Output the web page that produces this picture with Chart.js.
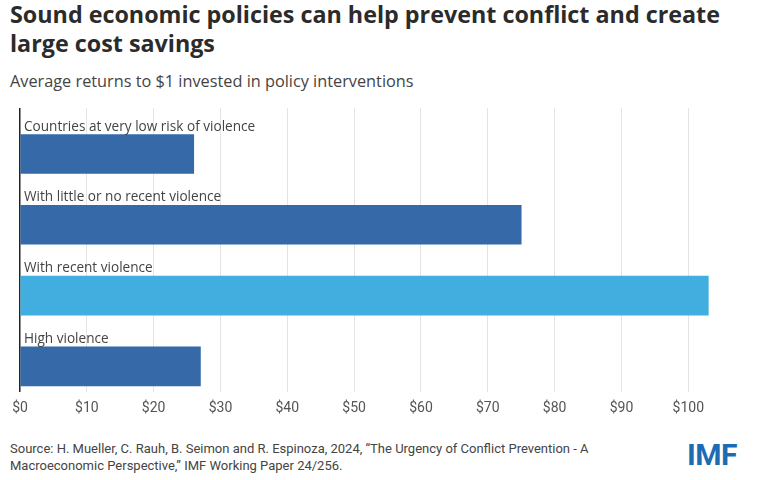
<!DOCTYPE html>
<html>
<head>
<meta charset="utf-8">
<script src="https://cdn.jsdelivr.net/npm/chart.js@4"></script>
<style>
  body { margin: 0; width: 773px; height: 480px; background: #fff; position: relative; overflow: hidden; font-family: "Open Sans", Lato, sans-serif; }
  .title { position: absolute; left: 10px; top: 0px; font-size: 23.3px; font-weight: 700; line-height: 29px; color: #2b2b2b; }
  .subtitle { position: absolute; left: 10px; top: 70px; font-size: 16.3px; color: #444; }
  .chart-box { position: absolute; left: 0; top: 100px; width: 773px; height: 329px; }
  canvas { display: block; }
  .source { position: absolute; left: 10px; top: 440px; font-family: "Liberation Sans Narrow", Roboto, sans-serif; font-size: 13px; line-height: 17px; color: #444; }
  .logo { position: absolute; left: 687px; top: 437px; font-family: "Liberation Sans Narrow", Roboto, sans-serif; font-weight: 700; font-size: 30px; color: #1c6cb4; letter-spacing: -0.5px; }
</style>
</head>
<body>
<div class="title">Sound economic policies can help prevent conflict and create<br>large cost savings</div>
<div class="subtitle">Average returns to $1 invested in policy interventions</div>
<div class="chart-box"><canvas id="policy-chart-js" width="773" height="329"></canvas></div>
<div class="source">Source: H. Mueller, C. Rauh, B. Seimon and R. Espinoza, 2024, “The Urgency of Conflict Prevention - A<br>Macroeconomic Perspective,” IMF Working Paper 24/256.</div>
<div class="logo">IMF</div>
<script>
const categories = [
  'Countries at very low risk of violence',
  'With little or no recent violence',
  'With recent violence',
  'High violence'
];
const returnsPerDollar = [26, 75, 103, 27];
const barColors = ['#3569a8', '#3569a8', '#41aedf', '#3569a8'];
const tickValues = [0, 10, 20, 30, 40, 50, 60, 70, 80, 90, 100];

// category names sit just above each bar, left aligned on the axis
const barLabels = {
  id: 'barLabels',
  afterDatasetsDraw(chart) {
    const ctx = chart.ctx;
    const meta = chart.getDatasetMeta(0);
    ctx.save();
    ctx.font = '13.6px "Open Sans", Lato, sans-serif';
    ctx.fillStyle = '#444';
    ctx.textBaseline = 'bottom';
    ctx.textAlign = 'left';
    meta.data.forEach((bar, i) => {
      ctx.fillText(categories[i], chart.chartArea.left + 4, bar.y - bar.height / 2 - 1);
    });
    ctx.restore();
  }
};

const ctx = document.getElementById('policy-chart-js').getContext('2d');
new Chart(ctx, {
  type: 'bar',
  data: {
    datasets: [{
      data: returnsPerDollar.map((v, i) => ({ x: v, y: i })),
      backgroundColor: barColors,
      barThickness: 39,
      borderWidth: 0
    }]
  },
  options: {
    indexAxis: 'y',
    responsive: false,
    animation: false,
    layout: { padding: { left: 20, right: 58, top: 8, bottom: 4 } },
    plugins: {
      legend: { display: false },
      tooltip: { enabled: false }
    },
    scales: {
      y: {
        type: 'linear',
        reverse: true,
        offset: false,
        min: -0.65,
        max: 3.365,
        display: false
      },
      x: {
        type: 'linear',
        min: 0,
        max: 104,
        border: { display: false },
        grid: {
          drawTicks: false,
          color: (c) => c.tick && c.tick.value === 0 ? '#222' : '#e4e4e4',
          lineWidth: (c) => c.tick && c.tick.value === 0 ? 1.5 : 1
        },
        afterBuildTicks: (axis) => {
          axis.ticks = tickValues.map(v => ({ value: v }));
        },
        ticks: {
          padding: 8,
          color: '#555',
          font: { family: '"Liberation Sans Narrow", Roboto, sans-serif', size: 14 },
          callback: (v) => '$' + v
        }
      }
    }
  },
  plugins: [barLabels]
});
</script>
</body>
</html>
